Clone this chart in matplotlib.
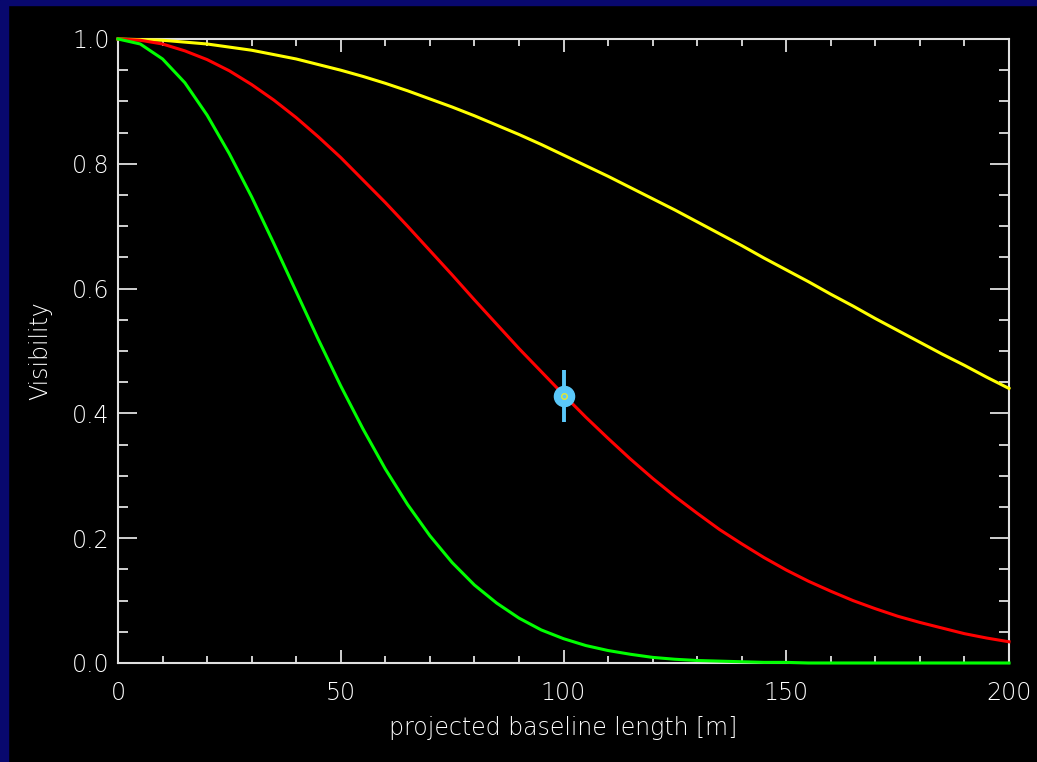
import matplotlib
matplotlib.use("Agg")
import matplotlib.pyplot as plt
from matplotlib.patches import Rectangle

# baseline lengths [m], read every 5 m
baseline = [0, 5, 10, 15, 20, 25, 30, 35, 40, 45, 50, 55, 60, 65, 70, 75, 80, 85, 90, 95, 100,
            105, 110, 115, 120, 125, 130, 135, 140, 145, 150, 155, 160, 165, 170, 175, 180, 185, 190, 195, 200]

# visibility curves
vis_yellow = [1.000, 0.999, 0.998, 0.995, 0.992, 0.987, 0.982, 0.975, 0.968, 0.959, 0.950,
              0.940, 0.929, 0.917, 0.904, 0.891, 0.877, 0.862, 0.847, 0.831, 0.814,
              0.797, 0.780, 0.762, 0.744, 0.726, 0.707, 0.688, 0.669, 0.649, 0.630,
              0.611, 0.591, 0.572, 0.552, 0.533, 0.514, 0.495, 0.477, 0.458, 0.440]
vis_red = [1.000, 0.998, 0.992, 0.981, 0.967, 0.949, 0.927, 0.902, 0.874, 0.843, 0.810,
           0.774, 0.738, 0.700, 0.661, 0.622, 0.582, 0.543, 0.504, 0.467, 0.430,
           0.394, 0.360, 0.327, 0.296, 0.267, 0.240, 0.214, 0.191, 0.169, 0.149,
           0.131, 0.115, 0.100, 0.087, 0.075, 0.065, 0.056, 0.047, 0.040, 0.034]
vis_green = [1.000, 0.992, 0.968, 0.930, 0.878, 0.816, 0.747, 0.672, 0.595, 0.518, 0.444,
             0.375, 0.311, 0.254, 0.204, 0.161, 0.125, 0.096, 0.072, 0.053, 0.039,
             0.028, 0.020, 0.014, 0.009, 0.006, 0.004, 0.003, 0.002, 0.001, 0.001,
             0.0, 0.0, 0.0, 0.0, 0.0, 0.0, 0.0, 0.0, 0.0, 0.0]

# measured point
meas_x = [100]
meas_y = [0.428]
meas_err = [0.042]

fig = plt.figure(figsize=(10.37, 7.62), dpi=100, facecolor="black")
# navy border strips (top and left)
fig.patches.append(Rectangle((0, 1 - 5 / 762), 1, 5 / 762, transform=fig.transFigure,
                             color="#08086e", zorder=0))
fig.patches.append(Rectangle((0, 0), 8 / 1037, 1, transform=fig.transFigure,
                             color="#08086e", zorder=0))

ax = fig.add_axes([118 / 1037, 1 - 663 / 762, (1009 - 118) / 1037, (663 - 39) / 762])
ax.set_facecolor("black")

ax.plot(baseline, vis_yellow, color="#ffff00", lw=2.2, zorder=3, clip_on=False)
ax.plot(baseline, vis_red, color="#ff0000", lw=2.2, zorder=3, clip_on=False)
ax.plot(baseline, vis_green, color="#00ff00", lw=2.2, zorder=3, clip_on=False)

ax.errorbar(meas_x, meas_y, yerr=meas_err, fmt="o", color="#5ac8fa", ms=14.5,
            elinewidth=2.8, capsize=0, zorder=5)
ax.plot(meas_x, meas_y, "o", mfc="none", mec="#e8e830", ms=4, mew=1, zorder=6)

ax.set_xlim(0, 200)
ax.set_ylim(0, 1.0)
ax.set_xticks([0, 50, 100, 150, 200])
ax.set_xticks(range(0, 201, 10), minor=True)
ax.set_yticks([0.0, 0.2, 0.4, 0.6, 0.8, 1.0])
ax.set_yticks([i * 0.05 for i in range(21)], minor=True)
ax.set_yticklabels(["0.0", "0.2", "0.4", "0.6", "0.8", "1.0"])

fc = "#e0e0e0"
tc = "#ffffff"
for s in ax.spines.values():
    s.set_color(fc)
    s.set_linewidth(1.5)

ax.tick_params(axis="x", which="major", direction="in", length=9.5, width=1.3, colors=fc,
               labelcolor=tc, top=True, bottom=True, pad=13, labelsize=17)
ax.tick_params(axis="x", which="minor", direction="in", length=5, width=1.3, colors=fc,
               top=True, bottom=True)
ax.tick_params(axis="y", which="major", direction="in", length=13.5, width=1.3, colors=fc,
               labelcolor=tc, left=True, right=True, pad=6, labelsize=17)
ax.tick_params(axis="y", which="minor", direction="in", length=7, width=1.3, colors=fc,
               left=True, right=True)
for lab in ax.get_xticklabels() + ax.get_yticklabels():
    lab.set_fontweight("light")

ax.set_xlabel("projected baseline length [m]", color=tc, fontsize=17, labelpad=8,
              fontweight="light")
ax.set_ylabel("Visibility", color=tc, fontsize=17, labelpad=14, fontweight="light")

fig.savefig("out.png", dpi=100, facecolor=fig.get_facecolor())
